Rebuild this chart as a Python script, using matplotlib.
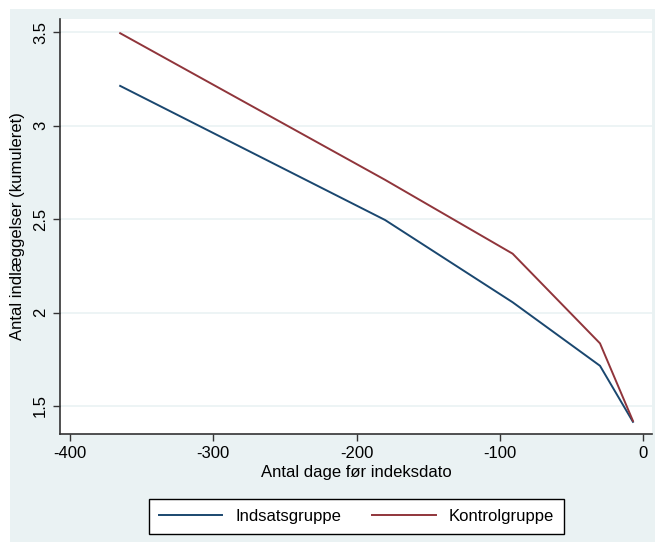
import matplotlib.pyplot as plt
from matplotlib.patches import Rectangle

plt.rcParams['font.family'] = ['Liberation Sans', 'DejaVu Sans']
plt.rcParams['axes.unicode_minus'] = False

# days before index date
days = [-365, -180, -91, -30, -7]
# cumulative admissions per group
indsats = [3.213, 2.495, 2.055, 1.715, 1.415]
kontrol = [3.495, 2.71, 2.315, 1.835, 1.42]

xticks = [-400, -300, -200, -100, 0]
yticks = [1.5, 2, 2.5, 3, 3.5]
ytick_labels = ['1.5', '2', '2.5', '3', '3.5']

bg = '#eaf2f3'
blue = '#1a476f'
red = '#90353b'

fig = plt.figure(figsize=(6.55, 5.42), dpi=100)
fig.patch.set_facecolor('white')
# stata style graph region
fig.patches.append(Rectangle((10 / 655, 0), 1 - 10 / 655, 1 - 9 / 542,
                             transform=fig.transFigure, facecolor=bg,
                             edgecolor='none', zorder=-10))

ax = fig.add_axes([60 / 655, 1 - 434 / 542, 592 / 655, 415 / 542])
ax.set_zorder(1)
ax.set_facecolor('white')

for y in yticks:
    ax.axhline(y, color=bg, linewidth=1.2, zorder=1)

ax.plot(days, indsats, color=blue, linewidth=1.4, label='Indsatsgruppe', zorder=3)
ax.plot(days, kontrol, color=red, linewidth=1.4, label='Kontrolgruppe', zorder=3)

ax.set_xlim(-407, 6.3)
ax.set_ylim(1.35, 3.571)
ax.set_xticks(xticks)
ax.set_xticklabels([str(t) for t in xticks])
ax.set_yticks(yticks)
ax.set_yticklabels(ytick_labels, rotation=90, va='center')
ax.tick_params(labelsize=12, length=5, width=1, color='#333333', labelcolor='black')

for s in ['top', 'right']:
    ax.spines[s].set_visible(False)
for s in ['left', 'bottom']:
    ax.spines[s].set_color('#333333')
    ax.spines[s].set_linewidth(1.2)

ax.set_xlabel('Antal dage før indeksdato', fontsize=12, labelpad=3)
ax.set_ylabel('Antal indlæggelser (kumuleret)', fontsize=12, labelpad=6)

leg = fig.legend(loc='center', bbox_to_anchor=(356.7 / 655, 1 - 516 / 542),
                 ncol=2, fontsize=12, handlelength=3.8, columnspacing=1.85,
                 fancybox=False, edgecolor='black', framealpha=1,
                 borderpad=0.6)
leg.get_frame().set_linewidth(1.0)

fig.savefig('out.png', dpi=100, facecolor=fig.get_facecolor())
